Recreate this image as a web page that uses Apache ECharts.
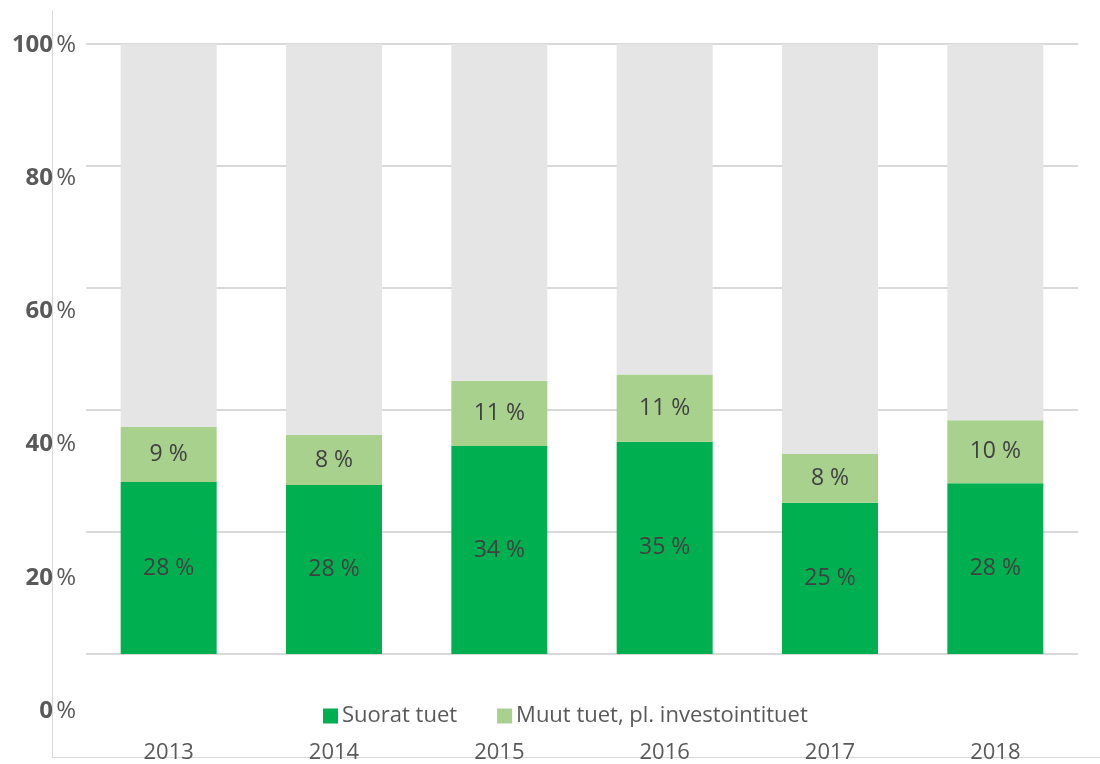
<!DOCTYPE html>
<html>
<head>
<meta charset="utf-8">
<script src="https://cdn.jsdelivr.net/npm/echarts@6/dist/echarts.min.js"></script>
<style>
  html, body { margin: 0; padding: 0; background: #fff; }
  #chart { width: 1100px; height: 764px; }
</style>
</head>
<body>
<div id="chart"></div>
<script>
// vuodet
const years = ['2013', '2014', '2015', '2016', '2017', '2018']
// osuudet (%)
const suoratTuet = [28.2, 27.7, 34.1, 34.8, 24.8, 28.0]
const muutTuet = [9.0, 8.2, 10.7, 11.0, 8.0, 10.3]
const yTicks = [0, 20, 40, 60, 80, 100]
const seriesNames = ['Suorat tuet', 'Muut tuet, pl. investointituet', 'Muut']

// loput 100 %:iin
const rest = years.map((y, i) => +(100 - suoratTuet[i] - muutTuet[i]).toFixed(1))

const font = "'Open Sans', 'Noto Sans', sans-serif"
const chart = echarts.init(document.getElementById('chart'))

const labelStyle = {
  show: true,
  position: 'inside',
  color: '#404040',
  fontSize: 23,
  fontFamily: font,
  formatter: (p) => Math.round(p.value) + ' %'
}

chart.setOption({
  animation: false,
  backgroundColor: '#fff',
  textStyle: { fontFamily: font },
  grid: [
    // piirtoalue
    { left: 86, right: 22, top: 44, bottom: 110 },
    // y-akselin tekstit (eri väli kuin ruudukolla)
    { left: 86, right: 22, top: 45, bottom: 53 },
    // kehys
    { left: 52, right: 0, top: 11, bottom: 7 }
  ],
  legend: {
    data: [seriesNames[0], seriesNames[1]],
    left: 318,
    top: 700,
    itemWidth: 15,
    itemHeight: 15,
    itemGap: 40,
    icon: 'rect',
    textStyle: { color: '#595959', fontSize: 22, fontFamily: font, padding: [0, 0, 0, -1] }
  },
  xAxis: [
    {
      type: 'category',
      data: years,
      gridIndex: 0,
      axisLine: { show: false },
      axisTick: { show: false },
      axisLabel: { color: '#595959', fontSize: 22, margin: 88, fontFamily: font }
    },
    { type: 'category', data: years, gridIndex: 1, show: false },
    {
      type: 'value',
      gridIndex: 2,
      axisLine: { show: true, lineStyle: { color: '#d9d9d9', width: 1 } },
      axisTick: { show: false },
      axisLabel: { show: false },
      splitLine: { show: false }
    }
  ],
  yAxis: [
    {
      type: 'value',
      gridIndex: 0,
      min: 0,
      max: 100,
      interval: 20,
      axisLabel: { show: false },
      axisLine: { show: false },
      axisTick: { show: false },
      splitLine: { lineStyle: { color: '#d9d9d9', width: 2 } }
    },
    {
      type: 'value',
      gridIndex: 1,
      min: yTicks[0],
      max: yTicks[yTicks.length - 1],
      interval: 20,
      axisLine: { show: false },
      axisTick: { show: false },
      splitLine: { show: false },
      axisLabel: {
        margin: 10,
        formatter: (v) => '{n|' + v + '} {p|%}',
        rich: {
          n: { color: '#595959', fontSize: 24, fontWeight: 'bold', fontFamily: font },
          p: { color: '#595959', fontSize: 24, fontFamily: font }
        }
      }
    },
    {
      type: 'value',
      gridIndex: 2,
      axisLine: { show: true, lineStyle: { color: '#d9d9d9', width: 1 } },
      axisTick: { show: false },
      axisLabel: { show: false },
      splitLine: { show: false }
    }
  ],
  series: [
    {
      name: seriesNames[0],
      type: 'bar',
      stack: 'total',
      barWidth: 96,
      data: suoratTuet,
      itemStyle: { color: '#00b050' },
      label: labelStyle
    },
    {
      name: seriesNames[1],
      type: 'bar',
      stack: 'total',
      barWidth: 96,
      data: muutTuet,
      itemStyle: { color: '#a9d18e' },
      label: labelStyle
    },
    {
      name: seriesNames[2],
      type: 'bar',
      stack: 'total',
      barWidth: 96,
      data: rest,
      itemStyle: { color: '#e5e5e5' },
      silent: true
    }
  ]
})
</script>
</body>
</html>
